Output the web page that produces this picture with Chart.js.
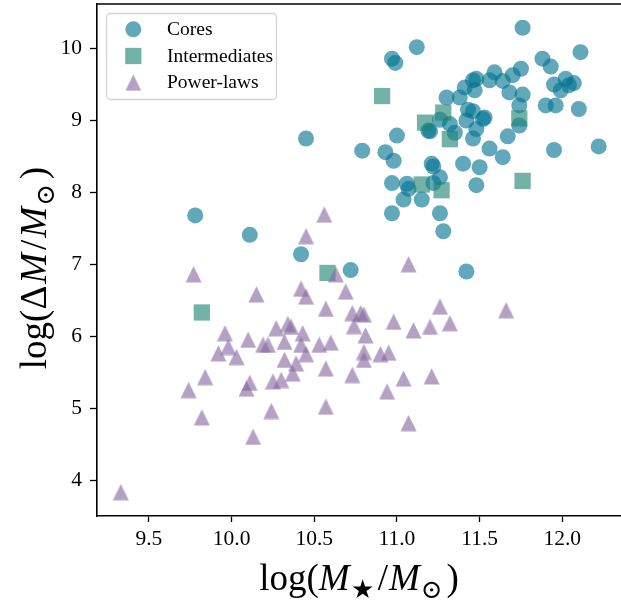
<!DOCTYPE html>
<html>
<head>
<meta charset="utf-8">
<script src="https://cdn.jsdelivr.net/npm/chart.js@4/dist/chart.umd.min.js"></script>
<style>
  html, body { margin: 0; padding: 0; background: #fff; overflow: hidden; }
  #wrap { width: 621px; height: 602px; }
</style>
</head>
<body>
<div id="wrap"><canvas id="massChart" width="621" height="602"></canvas></div>
<script>
// stellar mass vs. missing/excess mass, by central profile type
const seriesNames = ['Cores', 'Intermediates', 'Power-laws'];

const coresX = [11.12, 10.97, 10.99, 11.30, 11.38, 11.41, 11.46, 11.48, 11.47, 11.43,
  11.42, 11.52, 11.46, 11.26, 11.32, 11.19, 11.20, 11.35, 11.48, 11.46,
  11.56, 11.00, 10.79, 10.93, 10.98, 11.21, 11.22, 11.40, 11.50, 11.26,
  11.22, 10.97, 11.06, 11.07, 11.04, 11.15, 11.48, 10.97, 11.26, 11.28,
  11.76, 12.11, 11.88, 11.93, 11.59, 11.70, 11.75, 11.64, 11.56, 11.95,
  12.02, 12.04, 12.07, 11.99, 11.68, 11.76, 11.74, 11.90, 11.96, 12.10,
  11.74, 11.53, 11.67, 11.64, 11.95, 12.22, 10.45, 9.78, 10.11, 10.42,
  10.72, 11.42];
const coresY = [10.02, 9.86, 9.80, 9.32, 9.32, 9.46, 9.56, 9.58, 9.42, 9.15,
  9.00, 9.02, 9.13, 9.01, 8.95, 8.86, 8.85, 8.83, 8.88, 8.75,
  8.61, 8.79, 8.58, 8.56, 8.44, 8.40, 8.36, 8.40, 8.35, 8.21,
  8.13, 8.13, 8.12, 8.05, 7.90, 7.90, 8.10, 7.71, 7.71, 7.46,
  10.29, 9.95, 9.86, 9.75, 9.67, 9.63, 9.72, 9.55, 9.56, 9.50,
  9.58, 9.49, 9.52, 9.42, 9.39, 9.36, 9.21, 9.21, 9.21, 9.16,
  8.93, 9.04, 8.78, 8.49, 8.59, 8.64, 8.75, 7.68, 7.41, 7.14,
  6.92, 6.90];

const interX = [10.91, 11.28, 11.17, 11.32, 11.15, 11.27, 11.74, 11.76, 9.82, 10.58];
const interY = [9.34, 9.11, 8.97, 8.74, 8.11, 8.03, 9.03, 8.16, 6.33, 6.88];

const powerX = [9.33, 10.56, 10.45, 9.77, 10.63, 10.15, 10.42, 10.45, 10.69, 10.57,
  10.73, 10.78, 10.80, 10.74, 10.81, 10.98, 11.10, 11.20, 11.26, 11.32,
  11.66, 11.07, 10.60, 10.53, 10.80, 10.80, 10.90, 10.95, 10.57, 10.73,
  11.04, 11.21, 10.94, 10.57, 11.07, 9.96, 10.10, 9.98, 9.92, 10.03,
  10.19, 10.22, 10.27, 10.34, 10.36, 10.43, 10.32, 10.42, 10.45, 10.32,
  10.39, 10.37, 10.25, 10.30, 10.11, 10.09, 9.84, 9.74, 9.82, 10.24,
  10.13];
const powerY = [3.83, 7.69, 7.39, 6.86, 6.86, 6.58, 6.66, 6.55, 6.62, 6.38,
  6.32, 6.32, 6.30, 6.14, 6.01, 6.20, 6.08, 6.13, 6.41, 6.18,
  6.36, 7.00, 5.91, 5.88, 5.78, 5.67, 5.75, 5.77, 5.55, 5.46,
  5.41, 5.44, 5.23, 5.02, 4.79, 6.04, 5.95, 5.85, 5.76, 5.71,
  5.88, 5.88, 6.11, 6.17, 6.13, 6.04, 5.92, 5.88, 5.75, 5.67,
  5.62, 5.48, 5.37, 5.39, 5.35, 5.27, 5.43, 5.25, 4.87, 4.96,
  4.60];

const xTickLabels = ['9.5', '10.0', '10.5', '11.0', '11.5', '12.0'];
const yTickLabels = ['4', '5', '6', '7', '8', '9', '10'];

const coreColor = 'rgba(0, 115, 145, 0.62)';
const interColor = 'rgba(29, 131, 111, 0.62)';
const powerColor = 'rgba(134, 103, 158, 0.62)';
const serif = '"Liberation Serif", "DejaVu Serif", serif';

// matplotlib-style "^" marker: as tall as it is wide, centred on its box
function makeTriangle(size, color) {
  const c = document.createElement('canvas');
  c.width = size; c.height = size;
  const g = c.getContext('2d');
  g.fillStyle = color;
  g.beginPath();
  g.moveTo(size / 2, 0.3);
  g.lineTo(size - 0.5, size - 0.5);
  g.lineTo(0.5, size - 0.5);
  g.closePath();
  g.fill();
  return c;
}
const triangle = makeTriangle(17, powerColor);

const toPoints = (xs, ys) => xs.map((x, i) => ({ x: x, y: ys[i] }));

// axis titles with italic M and subscripts
const xTitle = [
  { t: 'log(' }, { t: 'M', i: true, gap: 1 }, { t: '\u2605', sub: true, gap: 4 },
  { t: '/', gap: 1 }, { t: 'M', i: true, gap: 1 }, { t: '\u2299', sub: true, gap: 4 }, { t: ')' }
];
const yTitle = [
  { t: 'log(' }, { t: '\u0394', gap: 2 }, { t: 'M', i: true, gap: 3 }, { t: '/', gap: 2 },
  { t: 'M', i: true, gap: 1 }, { t: '\u2299', sub: true, gap: 5 }, { t: ')' }
];

function drawMath(ctx, parts, cx, baseY, size) {
  const fontFor = p => (p.i ? 'italic ' : '') + (p.sub ? size * 0.7 : size) + 'px ' + serif;
  let total = 0;
  const widths = parts.map(p => {
    ctx.font = fontFor(p);
    const w = ctx.measureText(p.t).width + (p.gap || 0);
    total += w;
    return w;
  });
  let x = cx - total / 2;
  ctx.fillStyle = '#000';
  ctx.textAlign = 'left';
  ctx.textBaseline = 'alphabetic';
  parts.forEach((p, k) => {
    ctx.font = fontFor(p);
    ctx.fillText(p.t, x, baseY + (p.sub ? size * 0.22 : 0));
    x += widths[k];
  });
}

function roundRect(ctx, x, y, w, h, r) {
  ctx.beginPath();
  ctx.moveTo(x + r, y);
  ctx.arcTo(x + w, y, x + w, y + h, r);
  ctx.arcTo(x + w, y + h, x, y + h, r);
  ctx.arcTo(x, y + h, x, y, r);
  ctx.arcTo(x, y, x + w, y, r);
  ctx.closePath();
}

const decorations = {
  id: 'decorations',
  afterDraw(chart) {
    const ctx = chart.ctx;
    const a = chart.chartArea;
    ctx.save();

    // top spine
    ctx.strokeStyle = '#000';
    ctx.lineWidth = 1.6;
    ctx.beginPath();
    ctx.moveTo(a.left - 0.8, a.top);
    ctx.lineTo(a.right, a.top);
    ctx.stroke();

    drawMath(ctx, xTitle, (a.left + a.right) / 2, 590, 37);
    ctx.save();
    ctx.translate(46, 268);
    ctx.rotate(-Math.PI / 2);
    drawMath(ctx, yTitle, 0, 0, 37);
    ctx.restore();

    // legend box, upper left
    roundRect(ctx, 106.5, 13.5, 170, 86, 4);
    ctx.fillStyle = 'rgba(255,255,255,0.8)';
    ctx.fill();
    ctx.strokeStyle = '#d4d4d4';
    ctx.lineWidth = 1.3;
    ctx.stroke();

    chart.data.datasets.forEach((ds, k) => {
      const my = 29.3 + k * 26.7;
      const mx = 133.3;
      ctx.fillStyle = ds.backgroundColor;
      if (ds.pointStyle === 'circle') {
        ctx.beginPath();
        ctx.arc(mx, my, ds.pointRadius, 0, Math.PI * 2);
        ctx.fill();
      } else if (ds.pointStyle === 'rect') {
        const s = ds.pointRadius * Math.SQRT1_2;
        ctx.fillRect(mx - s, my - s, 2 * s, 2 * s);
      } else {
        ctx.drawImage(ds.pointStyle, mx - ds.pointStyle.width / 2, my - ds.pointStyle.height / 2);
      }
      ctx.fillStyle = '#000';
      ctx.font = '19.5px ' + serif;
      ctx.textAlign = 'left';
      ctx.textBaseline = 'alphabetic';
      ctx.fillText(ds.label, 167, 35 + k * 26.5);
    });

    ctx.restore();
  }
};

const tickFont = { family: serif, size: 21.5 };

new Chart(document.getElementById('massChart'), {
  type: 'scatter',
  data: {
    datasets: [
      {
        label: seriesNames[0],
        data: toPoints(coresX, coresY),
        pointStyle: 'circle',
        pointRadius: 8,
        pointHoverRadius: 8,
        backgroundColor: coreColor,
        borderWidth: 0,
        order: 3
      },
      {
        label: seriesNames[1],
        data: toPoints(interX, interY),
        pointStyle: 'rect',
        pointRadius: 11.5,
        pointHoverRadius: 11.5,
        backgroundColor: interColor,
        borderWidth: 0,
        order: 2
      },
      {
        label: seriesNames[2],
        data: toPoints(powerX, powerY),
        pointStyle: triangle,
        pointRadius: 8,
        pointHoverRadius: 8,
        backgroundColor: powerColor,
        borderWidth: 0,
        order: 1
      }
    ]
  },
  options: {
    responsive: false,
    animation: false,
    devicePixelRatio: 1,
    layout: { autoPadding: false, padding: { top: 4, left: 0, right: 0, bottom: 0 } },
    plugins: { legend: { display: false }, tooltip: { enabled: false } },
    scales: {
      x: {
        type: 'linear',
        min: 9.186,
        max: 12.355,
        afterBuildTicks: s => { s.ticks = xTickLabels.map(t => ({ value: parseFloat(t) })); },
        afterFit: s => { s.height = 86; s.paddingLeft = 0; s.paddingRight = 0; },
        ticks: {
          callback: (v, i) => xTickLabels[i],
          font: tickFont,
          color: '#000',
          padding: 4,
          maxRotation: 0,
          autoSkip: false
        },
        grid: { drawOnChartArea: false, drawTicks: true, tickLength: 6, tickWidth: 1.3, tickColor: '#000' },
        border: { display: true, color: '#000', width: 1.6 }
      },
      y: {
        type: 'linear',
        min: 3.5,
        max: 10.62,
        afterBuildTicks: s => { s.ticks = yTickLabels.map(t => ({ value: parseFloat(t) })); },
        afterFit: s => { s.width = 97; s.paddingTop = 0; s.paddingBottom = 0; },
        ticks: {
          callback: (v, i) => yTickLabels[i],
          font: tickFont,
          color: '#000',
          padding: 8,
          autoSkip: false
        },
        grid: { drawOnChartArea: false, drawTicks: true, tickLength: 7, tickWidth: 1.3, tickColor: '#000' },
        border: { display: true, color: '#000', width: 1.6 }
      }
    }
  },
  plugins: [decorations]
});
</script>
</body>
</html>
